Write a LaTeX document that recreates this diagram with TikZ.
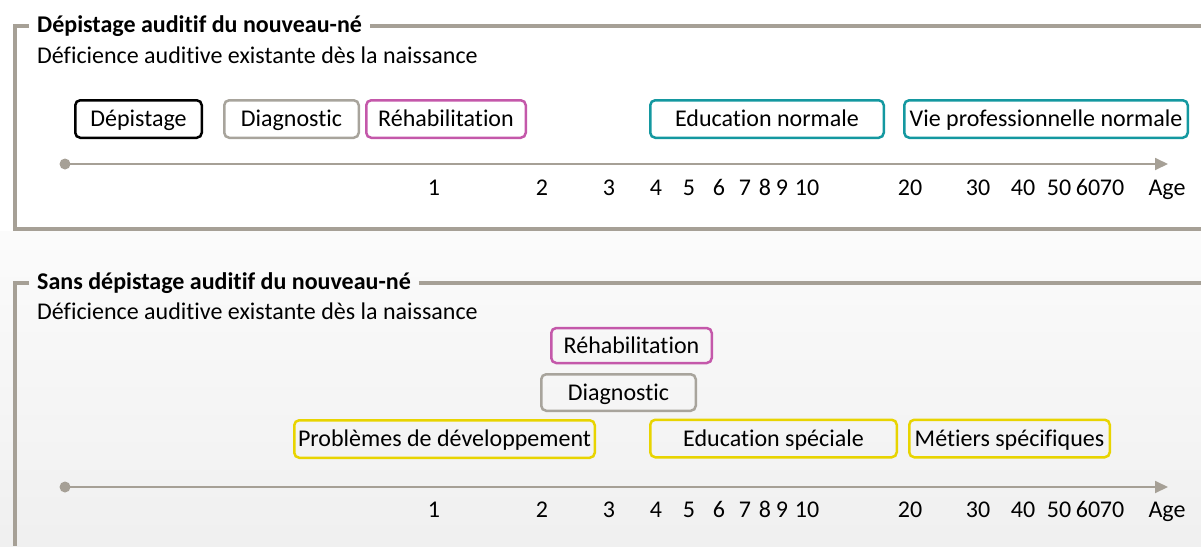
\documentclass[tikz,border=0pt]{standalone}
\usepackage{fontspec}
\setmainfont{Carlito}[Ligatures=CommonOff]
\usetikzlibrary{arrows.meta}

\definecolor{gris}{RGB}{166,160,150}
\definecolor{grisbox}{RGB}{168,164,156}
\definecolor{magenta}{RGB}{196,88,170}
\definecolor{turquoise}{RGB}{20,152,160}
\definecolor{jaune}{RGB}{232,212,0}

\begin{document}
\fontsize{24}{28}\selectfont
\begin{tikzpicture}[x=1pt, y=-1pt,
    cadre/.style={draw=gris, line width=3.5pt},
    axe/.style={draw=gris, line width=1.8pt},
    phase/.style={draw, rounded corners=5pt, line width=2.5pt, minimum height=37.5pt, inner sep=1pt, text height=16pt, text depth=1pt},
    titre/.style={anchor=west, inner xsep=8pt, inner ysep=0pt, font=\bfseries},
    sous/.style={anchor=west, inner sep=0pt},
    age/.style={anchor=base, inner sep=0pt}]
            \useasboundingbox (0,0) rectangle (1201,546);
            \shade[top color=white!98.5!black, bottom color=white!94!black] (0,231) rectangle (1201,546);

            % Define panel with screening
            \node[titre] (titreA) at (29,26) {Dépistage auditif du nouveau-né};
            \node[sous] (sousA) at (37,55.5) {Déficience auditive existante dès la naissance};
            \draw[cadre] (titreA.west) -- (15,26) -- (15,229) -- (1201,229);
            \draw[cadre] (titreA.east) -- (1201,26);

            \node[phase, draw=black, minimum width=126.5pt] (depA) at (138.5,119) {Dépistage};
            \node[phase, draw=grisbox, minimum width=134.5pt] (diagA) at (291.5,119) {Diagnostic};
            \node[phase, draw=magenta, minimum width=159.5pt] (rehabA) at (446,119) {Réhabilitation};
            \node[phase, draw=turquoise, minimum width=233.5pt] (eduA) at (767,119) {Education normale};
            \node[phase, draw=turquoise, minimum width=283.5pt] (vieA) at (1046,119) {Vie professionnelle normale};

            % Draw age axis
            \coordinate (debutA) at (65,164);
            \coordinate (finA) at (1168,164);
            \fill[gris] (debutA) circle (5.5pt);
            \draw[axe, -{Triangle[length=13pt, width=12pt]}] (debutA) -- (finA);
            \foreach \x/\t [count=\k] in {434/1, 542/2, 609/3, 656/4, 689/5, 719/6, 745/7, 765/8, 782/9, 807/10, 910/20, 978/30, 1023/40, 1059/50, 1088/60, 1112/70, 1167/Age}
                \node[age] (ageA\k) at (\x,195) {\t};

            % Define panel without screening
            \node[titre] (titreB) at (29,283) {Sans dépistage auditif du nouveau-né};
            \node[sous] (sousB) at (37,311) {Déficience auditive existante dès la naissance};
            \draw[cadre] (titreB.west) -- (15,283) -- (15,546);
            \draw[cadre] (titreB.east) -- (1201,283);

            \node[phase, draw=magenta, minimum width=160.5pt, minimum height=35pt] (rehabB) at (631.5,345.5) {Réhabilitation};
            \node[phase, draw=grisbox, minimum width=154.5pt, minimum height=36.5pt] (diagB) at (618.5,392.5) {Diagnostic};
            \node[phase, draw=jaune, minimum width=300.5pt] (probB) at (444.5,439) {Problèmes de développement};
            \node[phase, draw=jaune, minimum width=246.5pt] (eduB) at (773.5,438.5) {Education spéciale};
            \node[phase, draw=jaune, minimum width=200.5pt] (metB) at (1009.5,438.5) {Métiers spécifiques};

            % Draw age axis
            \coordinate (debutB) at (65,487);
            \coordinate (finB) at (1168,487);
            \fill[gris] (debutB) circle (5.5pt);
            \draw[axe, -{Triangle[length=13pt, width=12pt]}] (debutB) -- (finB);
            \foreach \x/\t [count=\k] in {434/1, 542/2, 609/3, 656/4, 689/5, 719/6, 745/7, 765/8, 782/9, 807/10, 910/20, 978/30, 1023/40, 1059/50, 1088/60, 1112/70, 1167/Age}
                \node[age] (ageB\k) at (\x,517) {\t};
        \end{tikzpicture}
\end{document}
